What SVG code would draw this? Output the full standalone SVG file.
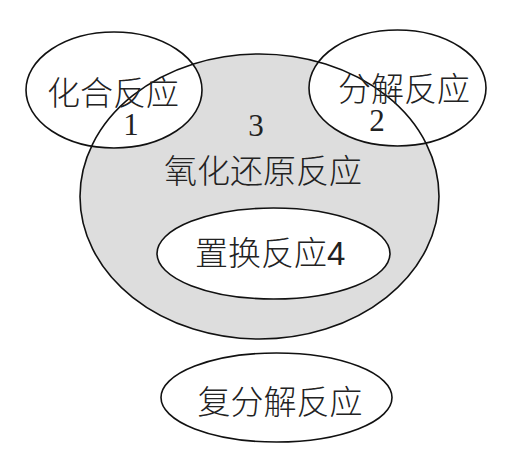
<svg xmlns="http://www.w3.org/2000/svg" width="512" height="475" viewBox="0 0 512 475">
<style>
.ol{fill:none;stroke:#111;stroke-width:1.6}
.wh{fill:#fff;stroke:#111;stroke-width:1.6}
.cj{font-family:"Noto Sans CJK SC","Noto Sans",sans-serif;font-size:33px;font-weight:300;fill:#222;text-anchor:middle}
.num{font-family:"Liberation Serif",serif;font-size:31px;fill:#222;text-anchor:middle}
</style>
<rect width="512" height="475" fill="#fff"/>
<g id="redox">
<ellipse cx="259.5" cy="196.5" rx="179.5" ry="142.5" fill="#dddddd"/>
</g>
<g id="combination">
<ellipse class="wh" cx="114" cy="90" rx="88" ry="58"/>
</g>
<g id="decomposition">
<ellipse class="wh" cx="397.5" cy="88" rx="88.5" ry="58"/>
</g>
<g id="redox-outline">
<ellipse class="ol" cx="259.5" cy="196.5" rx="179.5" ry="142.5"/>
<text class="num" x="256" y="136">3</text>
<text class="cj" x="263" y="183">氧化还原反应</text>
</g>
<g id="combination-text">
<text class="cj" x="113" y="105">化合反应</text>
<text class="num" x="131" y="135">1</text>
</g>
<g id="decomposition-text">
<text class="cj" x="404" y="101">分解反应</text>
<text class="num" x="377" y="131">2</text>
</g>
<g id="displacement">
<ellipse class="wh" cx="273.5" cy="253.5" rx="116.5" ry="45.5"/>
<text class="cj" x="195" y="265" style="text-anchor:start">置换反应<tspan font-family="Liberation Sans">4</tspan></text>
</g>
<g id="double-decomposition">
<ellipse class="wh" cx="276.5" cy="397.5" rx="115.5" ry="44.5"/>
<text class="cj" x="280" y="414">复分解反应</text>
</g>
<g id="connectors"/>
</svg>
